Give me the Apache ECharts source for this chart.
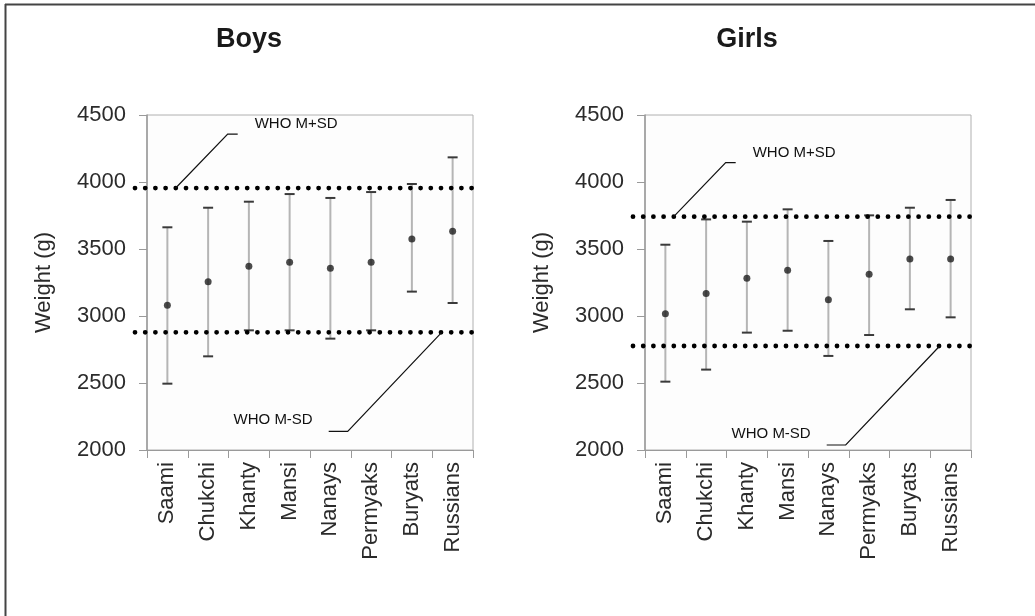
<!DOCTYPE html>
<html>
<head>
<meta charset="utf-8">
<script src="https://cdn.jsdelivr.net/npm/echarts@6/dist/echarts.min.js"></script>
<style>
  html, body { margin: 0; padding: 0; background: #fff; }
  #chart { width: 1035px; height: 616px; }
</style>
</head>
<body>
<div id="chart"></div>
<script>
// Birth weight by population: mean and range (g), with WHO mean ± SD references
const categories = ['Saami', 'Chukchi', 'Khanty', 'Mansi', 'Nanays', 'Permyaks', 'Buryats', 'Russians'];

const boysMean = [3080, 3256, 3371, 3401, 3356, 3401, 3575, 3632];
const boysLow  = [2495, 2699, 2893, 2893, 2831, 2893, 3182, 3097];
const boysHigh = [3662, 3808, 3853, 3910, 3881, 3925, 3985, 4184];

const girlsMean = [3017, 3167, 3281, 3341, 3122, 3311, 3425, 3425];
const girlsLow  = [2510, 2600, 2876, 2890, 2702, 2858, 3050, 2990];
const girlsHigh = [3532, 3721, 3704, 3796, 3560, 3751, 3808, 3866];

// WHO reference lines: [M-SD, M+SD]
const whoBoys  = [2878, 3955];
const whoGirls = [2776, 3741];
const whoLabels = ['WHO M-SD', 'WHO M+SD'];

const panelTitles = ['Boys', 'Girls'];
const yAxisName = 'Weight (g)';
const yMin = 2000, yMax = 4500, yStep = 500;

const FONT = '"Liberation Sans", Arial, Helvetica, sans-serif';
const TXT = '#2b2b2b';

const chart = echarts.init(document.getElementById('chart'), null, { renderer: 'canvas' });

const grids = [
  { left: 147, top: 115, width: 326, height: 335 },
  { left: 645, top: 115, width: 326, height: 335 }
];

function errorBarSeries(gi, low, high) {
  return {
    type: 'custom',
    xAxisIndex: gi, yAxisIndex: gi,
    data: categories.map((c, i) => [i, low[i], high[i]]),
    encode: { x: 0, y: [1, 2] },
    z: 2,
    renderItem(params, api) {
      const i = api.value(0);
      const lo = api.coord([i, api.value(1)]);
      const hi = api.coord([i, api.value(2)]);
      const hw = 5;
      return {
        type: 'group',
        children: [
          { type: 'line', shape: { x1: lo[0], y1: lo[1], x2: hi[0], y2: hi[1] },
            style: { stroke: '#b5b5b5', lineWidth: 2 } },
          { type: 'line', shape: { x1: hi[0] - hw, y1: hi[1], x2: hi[0] + hw, y2: hi[1] },
            style: { stroke: '#3a3a3a', lineWidth: 2 } },
          { type: 'line', shape: { x1: lo[0] - hw, y1: lo[1], x2: lo[0] + hw, y2: lo[1] },
            style: { stroke: '#3a3a3a', lineWidth: 2 } }
        ]
      };
    }
  };
}

function meanSeries(gi, mean) {
  return {
    type: 'scatter',
    xAxisIndex: gi, yAxisIndex: gi,
    data: categories.map((c, i) => [i, mean[i]]),
    symbol: 'circle',
    symbolSize: 7,
    itemStyle: { color: '#1e1e1e' },
    z: 4,
    silent: true
  };
}

// Dotted WHO reference lines, running slightly past the plot edges
function whoLineSeries(gi, who) {
  return {
    type: 'custom',
    xAxisIndex: gi, yAxisIndex: gi,
    data: who.map(v => [0, v]),
    encode: { x: 0, y: 1 },
    z: 5,
    silent: true,
    renderItem(params, api) {
      const cs = params.coordSys;
      const y = api.coord([0, api.value(1)])[1];
      return {
        type: 'line',
        shape: { x1: cs.x - 12, y1: y, x2: cs.x + cs.width + 4, y2: y },
        style: { stroke: '#000', lineWidth: 4.8, lineCap: 'round', lineDash: [0, 10.2] }
      };
    }
  };
}

// Callout labels with leader lines pointing at the WHO lines
function whoCalloutSeries(gi, who) {
  return {
    type: 'custom',
    xAxisIndex: gi, yAxisIndex: gi,
    data: who.map((v, k) => [0, v, k]),
    encode: { x: 0, y: 1 },
    z: 6,
    silent: true,
    renderItem(params, api) {
      const cs = params.coordSys;
      const k = api.value(2);
      const y = api.coord([0, api.value(1)])[1];
      let pts, tx, ty, align;
      if (k === 1) {
        const ax = cs.x + cs.width * 0.088;
        pts = [[ax, y], [ax + 52, y - 54], [ax + 62, y - 54]];
        tx = ax + 79; ty = y - 64; align = 'left';
      } else {
        const ax = cs.x + cs.width * 0.904;
        pts = [[ax, y], [ax - 94, y + 99], [ax - 113, y + 99]];
        tx = ax - 129; ty = y + 88; align = 'right';
      }
      return {
        type: 'group',
        children: [
          { type: 'polyline', shape: { points: pts },
            style: { stroke: '#111', lineWidth: 1.2, fill: null } },
          { type: 'text', x: tx, y: ty,
            style: { text: whoLabels[k], fill: '#111', font: '15px ' + FONT,
                     textAlign: align, textVerticalAlign: 'middle' } }
        ]
      };
    }
  };
}

function xAxis(gi) {
  return {
    type: 'category',
    gridIndex: gi,
    data: categories,
    boundaryGap: true,
    axisLine: { show: true, lineStyle: { color: '#9a9a9a', width: 1 } },
    axisTick: { show: true, length: 8, lineStyle: { color: '#9a9a9a' } },
    axisLabel: { rotate: 90, margin: 12, fontSize: 22, fontFamily: FONT, color: TXT },
    splitLine: { show: false }
  };
}

function yAxis(gi) {
  return {
    type: 'value',
    gridIndex: gi,
    min: yMin, max: yMax, interval: yStep,
    name: yAxisName,
    nameLocation: 'middle',
    nameGap: 92,
    nameTextStyle: { fontSize: 22, fontFamily: FONT, color: TXT },
    axisLine: { show: true, lineStyle: { color: '#9a9a9a', width: 1.5 } },
    axisTick: { show: true, length: 8, lineStyle: { color: '#9a9a9a' } },
    axisLabel: { margin: 21, fontSize: 22, fontFamily: FONT, color: TXT,
                 formatter: v => String(v) },
    splitLine: { show: false }
  };
}

const titleStyle = { fontSize: 27, fontWeight: 'bold', fontFamily: FONT, color: '#1a1a1a' };

const option = {
  backgroundColor: '#ffffff',
  animation: false,
  title: [
    { text: panelTitles[0], left: 244, top: 21, textAlign: 'center', textStyle: titleStyle },
    { text: panelTitles[1], left: 742, top: 21, textAlign: 'center', textStyle: titleStyle }
  ],
  grid: grids.map(g => Object.assign({ show: true, borderColor: '#b0b0b0', borderWidth: 1, backgroundColor: '#fdfdfd' }, g)),
  xAxis: [xAxis(0), xAxis(1)],
  yAxis: [yAxis(0), yAxis(1)],
  graphic: [
    // page frame (top and left edges)
    { type: 'line', shape: { x1: 5, y1: 4.5, x2: 1035, y2: 4.5 }, style: { stroke: '#444', lineWidth: 2 } },
    { type: 'line', shape: { x1: 5.5, y1: 4, x2: 5.5, y2: 616 }, style: { stroke: '#444', lineWidth: 2 } }
  ],
  series: [
    errorBarSeries(0, boysLow, boysHigh),
    meanSeries(0, boysMean),
    whoLineSeries(0, whoBoys),
    whoCalloutSeries(0, whoBoys),
    errorBarSeries(1, girlsLow, girlsHigh),
    meanSeries(1, girlsMean),
    whoLineSeries(1, whoGirls),
    whoCalloutSeries(1, whoGirls)
  ]
};

chart.setOption(option);
</script>
</body>
</html>
